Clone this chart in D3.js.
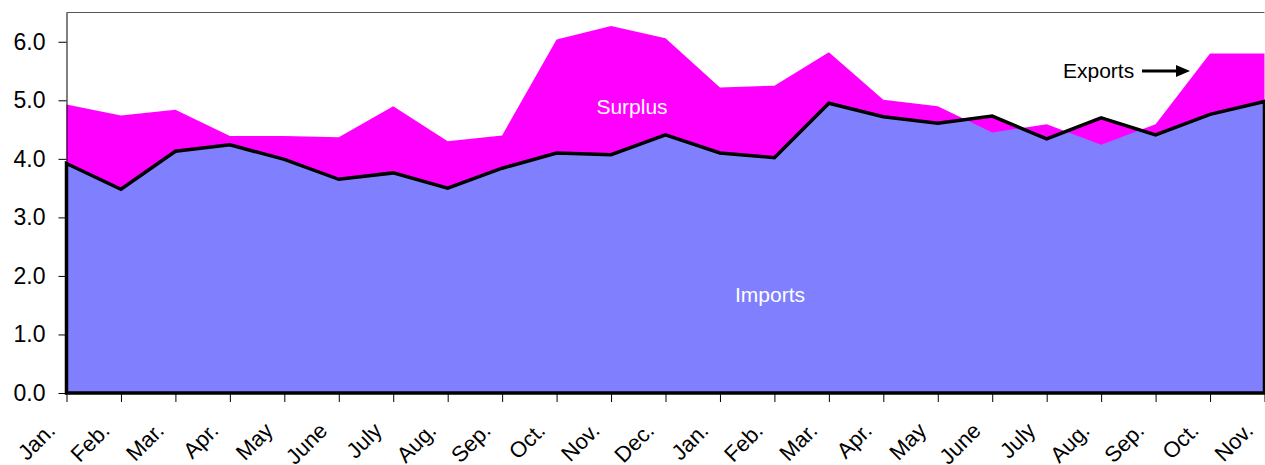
<!DOCTYPE html>
<html>
<head>
<meta charset="utf-8">
<script src="https://cdn.jsdelivr.net/npm/d3@7"></script>
<style>
  body { margin: 0; background: #fff; }
  svg { display: block; font-family: "Liberation Sans", Arial, sans-serif; }
</style>
</head>
<body>
<div id="chart"></div>
<script>
// month labels along the bottom (two years, Jan through Nov)
const months = ["Jan.","Feb.","Mar.","Apr.","May","June","July","Aug.","Sep.","Oct.","Nov.","Dec.",
                "Jan.","Feb.","Mar.","Apr.","May","June","July","Aug.","Sep.","Oct.","Nov."];

// values
const exportsVals = [4.93, 4.74, 4.84, 4.39, 4.39, 4.37, 4.90, 4.30, 4.40, 6.04, 6.27, 6.06,
                     5.22, 5.25, 5.82, 5.01, 4.90, 4.45, 4.59, 4.24, 4.59, 5.80, 5.80];
const importsVals = [3.92, 3.48, 4.13, 4.24, 3.99, 3.65, 3.76, 3.50, 3.84, 4.10, 4.07, 4.41,
                     4.10, 4.02, 4.95, 4.72, 4.61, 4.73, 4.34, 4.70, 4.41, 4.76, 4.98];
const yTicks = [0, 1, 2, 3, 4, 5, 6];

const svgWidth = 1265, svgHeight = 465;
const plot = { left: 66.5, right: 1264.5, top: 12.5, bottom: 393 };

const svg = d3.select("#chart").append("svg")
    .attr("width", svgWidth)
    .attr("height", svgHeight);

const idx = months.map((m, i) => i);

const x = d3.scalePoint()
    .domain(idx)
    .range([plot.left, plot.right]);

const y = d3.scaleLinear()
    .domain([0, 6.5])
    .range([plot.bottom, plot.top]);

// imports area (blue)
const importsArea = d3.area()
    .x(i => x(i))
    .y0(y(0))
    .y1(i => y(importsVals[i]));

svg.append("path")
    .datum(idx)
    .attr("d", importsArea)
    .attr("fill", "#8080ff");

// gap between exports and imports (magenta)
const surplusArea = d3.area()
    .x(i => x(i))
    .y0(i => y(importsVals[i]))
    .y1(i => y(exportsVals[i]));

svg.append("path")
    .datum(idx)
    .attr("d", surplusArea)
    .attr("fill", "#ff00ff");

// black outline of the imports area
svg.append("path")
    .datum(idx)
    .attr("d", importsArea)
    .attr("fill", "none")
    .attr("stroke", "#000")
    .attr("stroke-width", 3.5)
    .attr("stroke-linejoin", "miter");

// top frame line
svg.append("line")
    .attr("x1", plot.left).attr("x2", plot.right)
    .attr("y1", plot.top).attr("y2", plot.top)
    .attr("stroke", "#555")
    .attr("stroke-width", 1);

// y axis
const yAxis = svg.append("g")
    .attr("transform", `translate(${plot.left},0)`)
    .call(d3.axisLeft(y)
        .tickValues(yTicks)
        .tickFormat(d3.format(".1f"))
        .tickSize(8)
        .tickSizeOuter(0)
        .tickPadding(13));

yAxis.select(".domain").attr("stroke", "#000");
yAxis.selectAll(".tick line").attr("stroke", "#000");
yAxis.selectAll("text")
    .attr("font-size", 23)
    .attr("font-family", "Liberation Sans, Arial, sans-serif")
    .attr("fill", "#000");

// x axis ticks
const xAxis = svg.append("g")
    .attr("transform", `translate(0,${plot.bottom})`)
    .call(d3.axisBottom(x)
        .tickSize(9)
        .tickSizeOuter(0)
        .tickFormat(""));

xAxis.select(".domain").remove();
xAxis.selectAll(".tick line").attr("stroke", "#000");

// rotated month labels
svg.append("g")
    .selectAll("text")
    .data(idx)
    .join("text")
    .attr("transform", i => `translate(${x(i) - 10},432) rotate(-45)`)
    .attr("text-anchor", "end")
    .attr("font-size", 22)
    .attr("fill", "#000")
    .text(i => months[i]);

// labels inside the chart
svg.append("text")
    .attr("x", 632).attr("y", 114)
    .attr("text-anchor", "middle")
    .attr("font-size", 21)
    .attr("fill", "#fff")
    .text("Surplus");

svg.append("text")
    .attr("x", 770).attr("y", 302)
    .attr("text-anchor", "middle")
    .attr("font-size", 21)
    .attr("fill", "#fff")
    .text("Imports");

svg.append("text")
    .attr("x", 1063).attr("y", 78)
    .attr("font-size", 21)
    .attr("fill", "#000")
    .text("Exports");

// arrow pointing at the exports edge
svg.append("line")
    .attr("x1", 1142).attr("x2", 1178)
    .attr("y1", 71).attr("y2", 71)
    .attr("stroke", "#000")
    .attr("stroke-width", 3);

svg.append("path")
    .attr("d", "M1176,65 L1190,71 L1176,77 Z")
    .attr("fill", "#000");
</script>
</body>
</html>
